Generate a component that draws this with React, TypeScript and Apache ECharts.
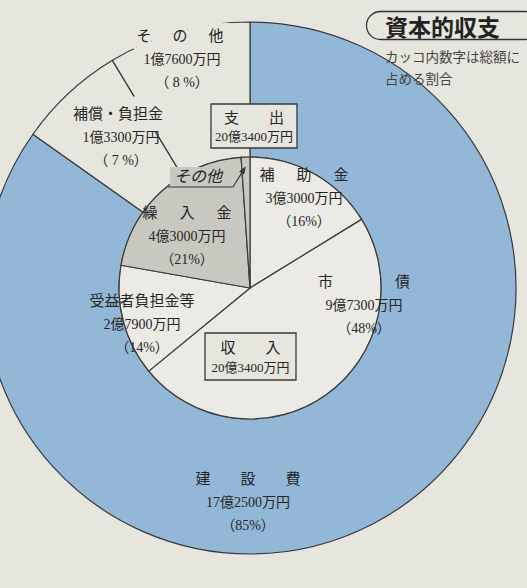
import React, { useEffect, useRef } from "react";
import * as echarts from "echarts";

// ---- data (amounts in 万円) ----
const outerNames = ["建設費", "補償・負担金", "その他"];
const outerValues = [172500, 13300, 17600];
const outerPercents = [85, 7, 8];
const innerNames = ["補助金", "市債", "受益者負担金等", "繰入金", "その他"];
const innerValues = [33000, 97300, 27900, 43000, 2200];
const innerPercents = [16, 48, 14, 21, 1];
const titleText = "資本的収支";
const noteLines = ["カッコ内数字は総額に", "占める割合"];
const totalNames = ["支出", "収入"];

// ---- style / layout ----
const BG = "#e6e5de";
const BLUE = "#93b7d6";
const GRAY = "#c8c7c0";
const LIGHT = "#ebeae4";
const INK = "#262626";
const LINE = "#3a3a3a";
const FONT = "'Liberation Serif', 'Noto Sans CJK JP', serif";
const CENTER = [250, 288];
const R_IN = 131;
const R_OUT = 266;
const outerColors = [BLUE, BG, BG];
const innerColors = [LIGHT, LIGHT, LIGHT, GRAY, GRAY];
const outerNameGap = [30, 0, 21];
const innerNameGap = [22, 62, 0, 22, 0];
// name line masks the divider / rim lines behind the label (as in the print)
const outerNameMask = [null, { pad: 10, lead: 0, trail: 6 }, { pad: 6, lead: 3, trail: 7 }];
const outerLabelPos = [[248, 502], [121, 137], [182, 59]];
const innerLabelPos = [[304, 198], [364, 305], [142, 324], [187, 236], [199, 176]];
const otherLeaderBase = [[168, 187], [233, 187]];
const boxRects = [
  { x: 211, y: 104, w: 86, h: 44 },
  { x: 205, y: 333, w: 91, h: 47 },
];

const yen = (v: number) => {
  const oku = Math.floor(v / 10000);
  const man = v % 10000;
  return `${oku > 0 ? oku + "億" : ""}${man > 0 ? man + "万" : ""}円`;
};
const pctText = (p: number) => (p < 10 ? `（ ${p} %）` : `（${p}%）`);

const rich: Record<string, any> = {
  n: { fontSize: 15, color: INK, fontFamily: FONT, lineHeight: 23 },
  v: { fontSize: 14, color: INK, fontFamily: FONT, lineHeight: 23 },
  p: { fontSize: 14, color: INK, fontFamily: FONT, lineHeight: 23 },
  s: {
    fontSize: 16,
    color: INK,
    fontFamily: FONT,
    fontStyle: "italic",
    lineHeight: 20,
    backgroundColor: GRAY,
    padding: [1, 6, 1, 4],
  },
};
const gapTok = (w: number, pad?: number) => {
  if (w <= 0) return "";
  const key = pad != null ? `gb${w}p${pad}` : `g${w}`;
  if (!rich[key])
    rich[key] =
      pad != null
        ? { width: w, fontSize: 14, lineHeight: 23, backgroundColor: BG, padding: [pad, 0, pad, 0] }
        : { width: w, fontSize: 14, lineHeight: 23 };
  return `{${key}| }`;
};
const nameTok = (s: string, pad?: number) => {
  if (pad == null) return `{n|${s}}`;
  const key = `nb${pad}`;
  if (!rich[key])
    rich[key] = { ...rich.n, backgroundColor: BG, padding: [pad, 0, pad, 0] };
  return `{${key}|${s}}`;
};
const nameLine = (name: string, gap: number, mask?: any) => {
  const pad = mask ? mask.pad : undefined;
  const body =
    gap > 0
      ? name.split("").map((c) => nameTok(c, pad)).join(gapTok(gap, pad))
      : nameTok(name, pad);
  return mask ? gapTok(mask.lead, pad) + body + gapTok(mask.trail, pad) : body;
};

const outerLabels = outerNames.map(
  (n, i) =>
    `${nameLine(n, outerNameGap[i], outerNameMask[i])}\n{v|${yen(outerValues[i])}}\n{p|${pctText(outerPercents[i])}}`
);
const innerLabels = innerNames.map((n, i) =>
  i === 4
    ? `{s|${n}}`
    : `${nameLine(n, innerNameGap[i])}\n{v|${yen(innerValues[i])}}\n{p|${pctText(innerPercents[i])}}`
);

const total = innerValues.reduce((a, b) => a + b, 0);

// leader arrow to the thin inner "その他" slice, tip derived from the slice's angle
const before = innerValues.slice(0, 4).reduce((a, b) => a + b, 0);
const midAng = ((before + innerValues[4] / 2) / total) * Math.PI * 2;
const tip = [
  CENTER[0] + 0.93 * R_IN * Math.sin(midAng),
  CENTER[1] - 0.93 * R_IN * Math.cos(midAng),
];
const elbow = otherLeaderBase[1];
const dl = Math.hypot(tip[0] - elbow[0], tip[1] - elbow[1]);
const d = [(tip[0] - elbow[0]) / dl, (tip[1] - elbow[1]) / dl];
const nrm = [-d[1], d[0]];
const arrow = [
  tip,
  [tip[0] - 8 * d[0] + 3 * nrm[0], tip[1] - 8 * d[1] + 3 * nrm[1]],
  [tip[0] - 8 * d[0] - 3 * nrm[0], tip[1] - 8 * d[1] - 3 * nrm[1]],
];

const option: any = {
  animation: false,
  backgroundColor: BG,
  title: [
    {
      text: titleText,
      left: 366,
      top: 11,
      padding: [3, 40, 3, 19],
      borderColor: "#333",
      borderWidth: 1.3,
      borderRadius: 15,
      textStyle: { fontSize: 23, fontWeight: "bold", color: "#222", fontFamily: "'Noto Sans CJK JP'" },
    },
    {
      text: noteLines.join("\n"),
      left: 385,
      top: 46,
      padding: 0,
      textStyle: { fontSize: 13.5, fontWeight: "normal", color: "#444", lineHeight: 22, fontFamily: FONT },
    },
  ],
  series: [
    {
      type: "pie",
      silent: true,
      center: CENTER,
      radius: [R_IN, R_OUT],
      startAngle: 90,
      clockwise: true,
      avoidLabelOverlap: false,
      minShowLabelAngle: 0,
      itemStyle: { borderColor: LINE, borderWidth: 1.2 },
      label: {
        show: true,
        position: "inside",
        formatter: (p: any) => outerLabels[p.dataIndex],
        rich,
        align: "center",
      },
      labelLine: { show: false },
      labelLayout: (params: any) => ({
        x: outerLabelPos[params.dataIndex][0],
        y: outerLabelPos[params.dataIndex][1],
        align: "center",
        verticalAlign: "middle",
      }),
      data: outerNames.map((name, i) => ({
        name,
        value: outerValues[i],
        itemStyle: { color: outerColors[i] },
      })),
    },
    {
      type: "pie",
      silent: true,
      center: CENTER,
      radius: [0, R_IN],
      startAngle: 90,
      clockwise: true,
      avoidLabelOverlap: false,
      minShowLabelAngle: 0,
      itemStyle: { borderColor: LINE, borderWidth: 1.2 },
      label: {
        show: true,
        position: "inside",
        formatter: (p: any) => innerLabels[p.dataIndex],
        rich,
        align: "center",
      },
      labelLine: { show: false },
      labelLayout: (params: any) => ({
        x: innerLabelPos[params.dataIndex][0],
        y: innerLabelPos[params.dataIndex][1],
        align: "center",
        verticalAlign: "middle",
      }),
      data: innerNames.map((name, i) => ({
        name,
        value: innerValues[i],
        itemStyle: { color: innerColors[i] },
      })),
    },
  ],
  graphic: [
    {
      type: "polyline",
      z: 40,
      shape: { points: [otherLeaderBase[0], elbow, [tip[0] - 6 * d[0], tip[1] - 6 * d[1]]] },
      style: { stroke: LINE, lineWidth: 1.2, fill: null },
    },
    {
      type: "polygon",
      z: 40,
      shape: { points: arrow },
      style: { fill: LINE },
    },
    ...totalNames.map((name, i) => {
      const b = boxRects[i];
      const cx = b.x + b.w / 2;
      return {
        type: "group",
        z: 50,
        children: [
          {
            type: "rect",
            z: 50,
            shape: { x: b.x, y: b.y, width: b.w, height: b.h },
            style: { fill: BG, stroke: LINE, lineWidth: 1.3 },
          },
          {
            type: "text",
            z: 51,
            style: {
              text: name.split("").join("\u3000\u3000"),
              x: cx,
              y: b.y + b.h * 0.32,
              textAlign: "center",
              textVerticalAlign: "middle",
              fontSize: 15,
              fontFamily: FONT,
              fill: INK,
            },
          },
          {
            type: "text",
            z: 51,
            style: {
              text: yen(total),
              x: cx,
              y: b.y + b.h * 0.74,
              textAlign: "center",
              textVerticalAlign: "middle",
              fontSize: 13,
              fontFamily: FONT,
              fill: INK,
            },
          },
        ],
      };
    }),
  ],
};

export default function App() {
  const ref = useRef<HTMLDivElement>(null);
  useEffect(() => {
    const chart = echarts.init(ref.current!, null, { renderer: "svg" });
    chart.setOption(option);
    return () => chart.dispose();
  }, []);
  return (
    <div
      ref={ref}
      style={{ position: "absolute", left: 0, top: 0, width: 527, height: 588 }}
    />
  );
}
